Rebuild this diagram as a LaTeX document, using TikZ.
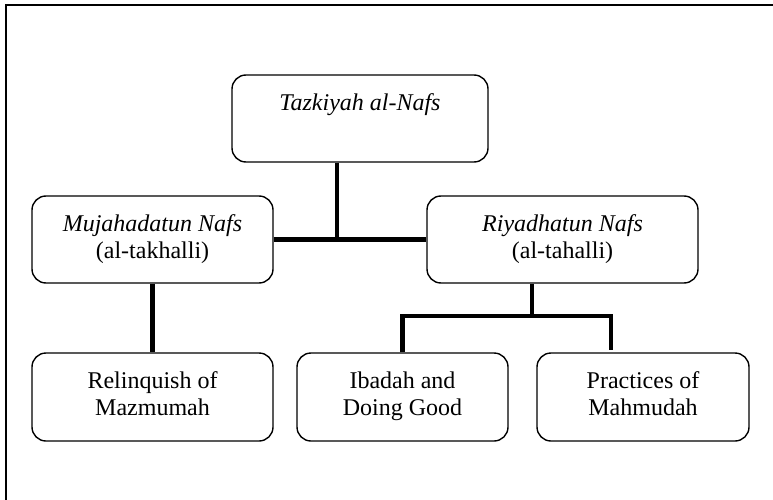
\documentclass[tikz,border=0pt]{standalone}
\usepackage{fontspec}
\setmainfont{Liberation Serif}
\begin{document}
\begin{tikzpicture}[x=1pt,y=-1pt,
  box/.style={draw, line width=1.4pt, rounded corners=14pt, align=center, inner sep=0pt,
    font=\fontsize{24}{27}\selectfont},
  link/.style={line width=4.2pt, line join=miter}]
\useasboundingbox (0,0) rectangle (773,500);
\clip (0,0) rectangle (773,500);
\fill[white] (0,0) rectangle (773,500);
\draw[line width=2pt] (6,5) rectangle (790,520);
% nodes
\node[box, minimum width=256pt, minimum height=87pt] (tz) at (360,118.5) {\strut\textit{Tazkiyah al-Nafs}\\\strut};
\node[box, minimum width=241pt, minimum height=87pt] (mu) at (152.5,239.5) {\strut\textit{Mujahadatun Nafs}\\\strut(al-takhalli)};
\node[box, minimum width=271pt, minimum height=87pt] (ri) at (562.5,239.5) {\strut\textit{Riyadhatun Nafs}\\\strut(al-tahalli)};
\node[box, minimum width=241pt, minimum height=88pt] (rel) at (152.5,397) {\strut Relinquish of\\\strut Mazmumah};
\node[box, minimum width=211pt, minimum height=88pt] (ib) at (402.5,397) {\strut Ibadah and\\\strut Doing Good};
\node[box, minimum width=212pt, minimum height=88pt] (pr) at (643,397) {\strut Practices of\\\strut Mahmudah};
% junctions
\coordinate (j1) at (337,239.5);
\coordinate (j2) at (532,316);
\coordinate (j3) at (611,316);
\coordinate (j4) at (611,350);
% connectors
\draw[link] (tz.south -| j1) -- (j1);
\draw[link] (mu.east) -- (ri.west);
\draw[link] (mu.south) -- (rel.north);
\draw[link] (ri.south -| j2) -- (j2);
\draw[link] (ib.north) |- (j3) -- (j4);
\end{tikzpicture}
\end{document}
